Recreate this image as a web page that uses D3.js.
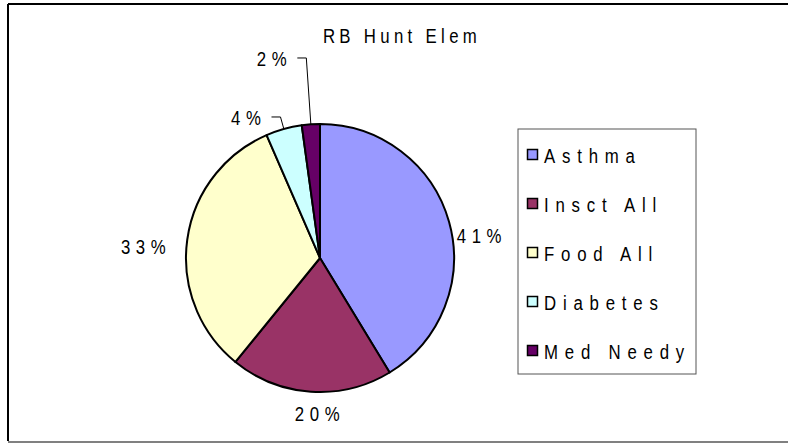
<!DOCTYPE html>
<html>
<head>
<meta charset="utf-8">
<script src="https://cdn.jsdelivr.net/npm/d3@7"></script>
<style>
  body { margin: 0; background: #fff; }
  text { font-family: "Liberation Sans Narrow", "Arial Narrow", "Liberation Sans", Arial, sans-serif; fill: #000; }
</style>
</head>
<body>
<svg width="788" height="443"></svg>
<script>
// chart data
const title = "RB Hunt Elem";
const categories = ["Asthma", "Insct All", "Food All", "Diabetes", "Med Needy"];
const counts = [19, 9, 15, 2, 1];
const colors = ["#9999FF", "#993366", "#FFFFCC", "#CCFFFF", "#660066"];

var svg = d3.select('svg');
var width = 788, height = 443;

// narrow text: regular font squeezed horizontally
function narrowText(sel, x, y, str, spacing, anchor) {
    return sel.append("text")
        .attr("transform", `translate(${x}, ${y}) scale(0.8, 1)`)
        .attr("text-anchor", anchor || "start")
        .style("font-size", "21px")
        .style("letter-spacing", spacing + "px")
        .text(str);
}

// outer frame (black top/left, grey bottom)
svg.append("line").attr("x1", 8).attr("y1", 4).attr("x2", width).attr("y2", 4)
    .attr("stroke", "#000").attr("stroke-width", 2);
svg.append("line").attr("x1", 8).attr("y1", 4).attr("x2", 8).attr("y2", 441)
    .attr("stroke", "#000").attr("stroke-width", 2);
svg.append("line").attr("x1", 8).attr("y1", 442).attr("x2", width).attr("y2", 442)
    .attr("stroke", "#808080").attr("stroke-width", 2);

narrowText(svg, 402, 43, title, 5.4, "middle");

var cx = 320, cy = 258, radius = 134;
var total = d3.sum(counts);

var color = d3.scaleOrdinal().domain(categories).range(colors);

var pie = d3.pie().sort(null).value(d => d.value);
var slices = pie(categories.map((c, i) => ({ name: c, value: counts[i] })));

var arc = d3.arc().innerRadius(0).outerRadius(radius);

var g = svg.append("g").attr("transform", `translate(${cx}, ${cy})`);

g.selectAll("path")
    .data(slices)
    .enter()
    .append("path")
    .attr("d", arc)
    .style("fill", d => color(d.data.name))
    .style("stroke", "#000")
    .style("stroke-width", 2)
    .style("stroke-linejoin", "round");

// percent labels
var pct = d => Math.round(d.data.value / total * 100) + "%";
var mid = d => (d.startAngle + d.endAngle) / 2;

var big = slices.filter(d => d.data.value / total >= 0.05);
var small = slices.filter(d => d.data.value / total < 0.05);

big.forEach(d => {
    var a = mid(d);
    var s = Math.sin(a), c = Math.cos(a);
    var r = radius + 8;
    var x = s * r, y = -c * r * 0.6;
    var anchor = s > 0.5 ? "start" : (s < -0.5 ? "end" : "middle");
    if (Math.abs(s) <= 0.5) { x = 0; y = -c * (radius + 13); }
    var yy = Math.abs(s) > 0.5 ? y + 8 : (c < 0 ? y + 16 : y - 4);
    if (anchor === "end") x -= 8;
    narrowText(g, x, yy, pct(d), 7, anchor);
});

// small slices: leader lines, stacked upwards
var prevY = Infinity;
small.forEach(d => {
    var a = mid(d);
    var s = Math.sin(a), c = Math.cos(a);
    var ex = s * radius, ey = -c * radius;
    var ly = Math.min(ey - 12, prevY - 59);
    prevY = ly;
    var t = -ly / c;
    var lx = s * t;
    g.append("polyline")
        .attr("points", `${ex},${ey} ${lx},${ly} ${lx - 9},${ly}`)
        .style("fill", "none")
        .style("stroke", "#000")
        .style("stroke-width", 1);
    narrowText(g, lx - 14, ly + 8, pct(d), 7, "end");
});

// legend
var legend = svg.append("g").attr("transform", "translate(518, 129)");
legend.append("rect")
    .attr("width", 178)
    .attr("height", 245)
    .style("fill", "#fff")
    .style("stroke", "#555")
    .style("stroke-width", 1);

var rowScale = d3.scalePoint().domain(categories).range([26, 222]);

var items = legend.selectAll(".item")
    .data(categories)
    .enter()
    .append("g")
    .attr("class", "item")
    .attr("transform", d => `translate(0, ${rowScale(d)})`);

items.append("rect")
    .attr("x", 9.5)
    .attr("y", -5.5)
    .attr("width", 10)
    .attr("height", 10)
    .style("fill", d => color(d))
    .style("stroke", "#000")
    .style("stroke-width", 1.5);

items.each(function(d) {
    narrowText(d3.select(this), 26, 8, d, 8.5);
});
</script>
</body>
</html>
